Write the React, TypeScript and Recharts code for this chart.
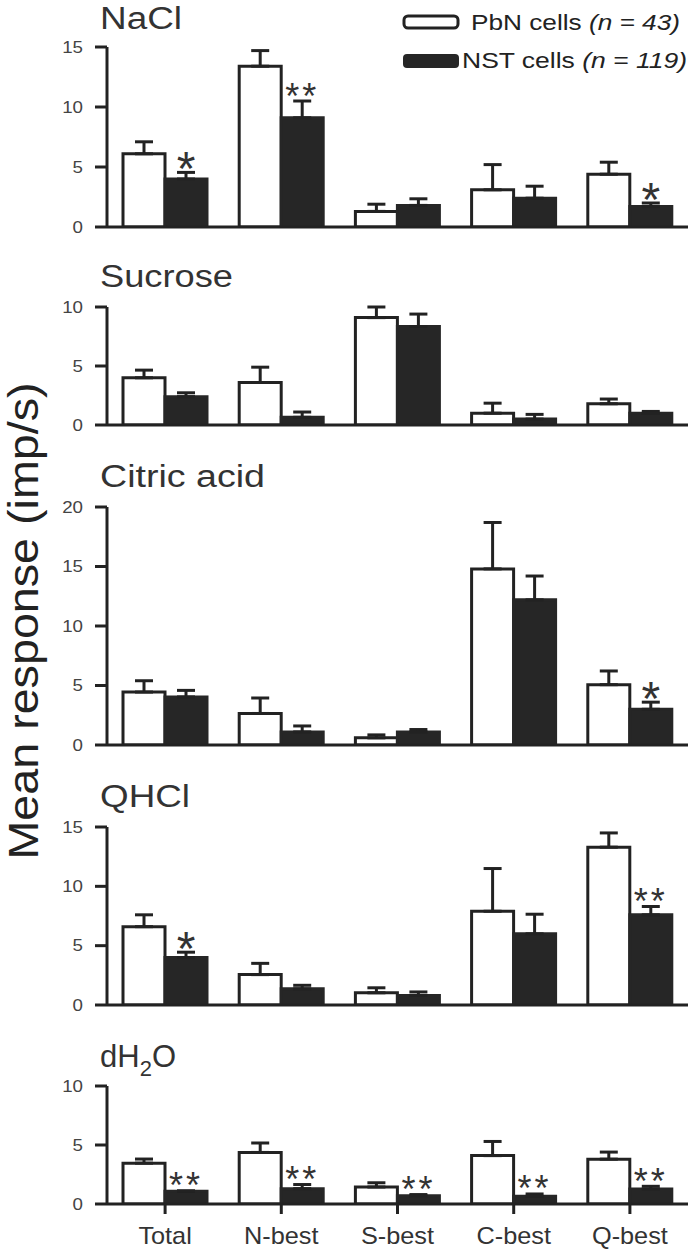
import React from "react";
import { Bar, BarChart, ErrorBar, LabelList, XAxis, YAxis } from "recharts";

const categories = ["Total", "N-best", "S-best", "C-best", "Q-best"];

const naclPbn = [6.1, 13.4, 1.3, 3.1, 4.4];
const naclPbnErr = [1.0, 1.3, 0.6, 2.1, 1.0];
const naclNst = [4.0, 9.1, 1.8, 2.4, 1.7];
const naclNstErr = [0.55, 1.4, 0.55, 1.0, 0.3];
const naclStars = ["*", "**", "", "", "*"];

const sucrosePbn = [4.0, 3.6, 9.1, 1.0, 1.8];
const sucrosePbnErr = [0.65, 1.3, 0.9, 0.85, 0.4];
const sucroseNst = [2.4, 0.65, 8.35, 0.5, 1.0];
const sucroseNstErr = [0.33, 0.45, 1.05, 0.4, 0.15];
const sucroseStars = ["", "", "", "", ""];

const citricPbn = [4.45, 2.65, 0.6, 14.8, 5.07];
const citricPbnErr = [0.95, 1.3, 0.25, 3.9, 1.15];
const citricNst = [4.04, 1.1, 1.1, 12.2, 3.0];
const citricNstErr = [0.55, 0.5, 0.2, 2.0, 0.6];
const citricStars = ["", "", "", "", "*"];

const qhclPbn = [6.6, 2.56, 1.03, 7.9, 13.3];
const qhclPbnErr = [1.0, 0.95, 0.42, 3.6, 1.2];
const qhclNst = [4.0, 1.36, 0.8, 6.0, 7.6];
const qhclNstErr = [0.45, 0.3, 0.3, 1.65, 0.7];
const qhclStars = ["*", "", "", "", "**"];

const waterPbn = [3.46, 4.37, 1.44, 4.1, 3.8];
const waterPbnErr = [0.35, 0.8, 0.36, 1.2, 0.6];
const waterNst = [1.07, 1.3, 0.7, 0.65, 1.27];
const waterNstErr = [0.05, 0.35, 0.1, 0.2, 0.23];
const waterStars = ["**", "**", "**", "**", "**"];

const FONT = "'Liberation Sans', Arial, sans-serif";
const INK = "#222";

type Panel = {
  key: string;
  plotTop: number;
  plotBottom: number;
  max: number;
  ticks: number[];
  pbn: number[];
  pbnErr: number[];
  nst: number[];
  nstErr: number[];
  stars: string[];
  showX: boolean;
};

const panels: Panel[] = [
  { key: "nacl", plotTop: 47, plotBottom: 227, max: 15, ticks: [0, 5, 10, 15], pbn: naclPbn, pbnErr: naclPbnErr, nst: naclNst, nstErr: naclNstErr, stars: naclStars, showX: false },
  { key: "sucrose", plotTop: 307, plotBottom: 425, max: 10, ticks: [0, 5, 10], pbn: sucrosePbn, pbnErr: sucrosePbnErr, nst: sucroseNst, nstErr: sucroseNstErr, stars: sucroseStars, showX: false },
  { key: "citric", plotTop: 507, plotBottom: 745, max: 20, ticks: [0, 5, 10, 15, 20], pbn: citricPbn, pbnErr: citricPbnErr, nst: citricNst, nstErr: citricNstErr, stars: citricStars, showX: false },
  { key: "qhcl", plotTop: 827, plotBottom: 1005, max: 15, ticks: [0, 5, 10, 15], pbn: qhclPbn, pbnErr: qhclPbnErr, nst: qhclNst, nstErr: qhclNstErr, stars: qhclStars, showX: false },
  { key: "water", plotTop: 1086, plotBottom: 1204, max: 10, ticks: [0, 5, 10], pbn: waterPbn, pbnErr: waterPbnErr, nst: waterNst, nstErr: waterNstErr, stars: waterStars, showX: true },
];

function YTick({ x, y, payload }: any) {
  return (
    <text
      transform={`translate(${x},${y}) scale(1.17,1)`}
      textAnchor="end"
      dominantBaseline="central"
      fontSize={16}
      fontFamily={FONT}
      fill="#444"
    >
      {payload.value}
    </text>
  );
}

function XTick({ x, y, payload }: any) {
  return (
    <text
      transform={`translate(${x},${y + 26}) scale(1.1,1)`}
      textAnchor="middle"
      fontSize={23}
      fontFamily={FONT}
      fill="#333"
    >
      {payload.value}
    </text>
  );
}

function MeanPanel({ p }: { p: Panel }) {
  const MT = 20;
  const MB = 14;
  const plotH = p.plotBottom - p.plotTop;
  const xH = p.showX ? 48 : 2;
  const height = MT + plotH + xH + MB;
  const rows = categories.map((c, i) => ({
    name: c,
    pbn: p.pbn[i],
    pbnErr: [0, p.pbnErr[i]],
    nst: p.nst[i],
    nstErr: [0, p.nstErr[i]],
    star: p.stars[i],
  }));
  const perUnit = plotH / p.max;

  const renderStar = (props: any) => {
    const { x, y, width, index } = props;
    const s = p.stars[index];
    if (!s) return null;
    const errTop = y - p.nstErr[index] * perUnit;
    const single = s === "*";
    return (
      <text
        x={x + width / 2}
        y={single ? errTop + 13 : errTop + 7.5}
        textAnchor="middle"
        fontSize={single ? 48 : 36}
        letterSpacing={single ? 0 : 3}
        fontFamily={FONT}
        fill="#333"
      >
        {s}
      </text>
    );
  };

  return (
    <div style={{ position: "absolute", left: 0, top: p.plotTop - MT }}>
      <BarChart
        width={690}
        height={height}
        data={rows}
        margin={{ top: MT, right: 2, bottom: MB, left: 0 }}
        barGap={0}
        barSize={42}
      >
        <XAxis
          dataKey="name"
          height={xH}
          interval={0}
          axisLine={{ stroke: INK, strokeWidth: 3 }}
          tickLine={p.showX ? { stroke: INK, strokeWidth: 3 } : false}
          tickSize={10}
          tickMargin={4}
          tick={p.showX ? <XTick /> : false}
        />
        <YAxis
          width={107}
          domain={[0, p.max]}
          ticks={p.ticks}
          interval={0}
          tickSize={12}
          tickMargin={12}
          axisLine={{ stroke: INK, strokeWidth: 3 }}
          tickLine={{ stroke: INK, strokeWidth: 3 }}
          tick={<YTick />}
          allowDataOverflow
        />
        <Bar dataKey="pbn" fill="#fff" stroke={INK} strokeWidth={3} isAnimationActive={false}>
          <ErrorBar dataKey="pbnErr" direction="y" width={9} stroke={INK} strokeWidth={3} isAnimationActive={false} />
        </Bar>
        <Bar dataKey="nst" fill="#262626" stroke="#262626" strokeWidth={3} isAnimationActive={false}>
          <ErrorBar dataKey="nstErr" direction="y" width={9} stroke={INK} strokeWidth={3} isAnimationActive={false} />
          <LabelList dataKey="star" content={renderStar} />
        </Bar>
      </BarChart>
    </div>
  );
}

export default function App() {
  const titleStyle = { fontSize: 31, fontFamily: FONT, fill: "#333" };
  return (
    <div style={{ position: "absolute", left: 0, top: 0, width: 690, height: 1252, background: "#fff", overflow: "hidden" }}>
      {panels.map((p) => (
        <MeanPanel key={p.key} p={p} />
      ))}
      <svg width={690} height={1252} style={{ position: "absolute", left: 0, top: 0, pointerEvents: "none" }}>
        <text x={100} y={29} textLength={82} lengthAdjust="spacingAndGlyphs" {...titleStyle}>NaCl</text>
        <text x={100} y={287} textLength={133} lengthAdjust="spacingAndGlyphs" {...titleStyle}>Sucrose</text>
        <text x={100} y={487} textLength={165} lengthAdjust="spacingAndGlyphs" {...titleStyle}>Citric acid</text>
        <text x={100} y={807} textLength={90} lengthAdjust="spacingAndGlyphs" {...titleStyle}>QHCl</text>
        <text x={100} y={1067} {...titleStyle}>
          <tspan>dH</tspan>
          <tspan fontSize={22} dy={9}>2</tspan>
          <tspan dy={-9}>O</tspan>
        </text>

        <text
          x={38}
          y={621}
          transform="rotate(-90 38 621)"
          textAnchor="middle"
          textLength={477}
          lengthAdjust="spacingAndGlyphs"
          fontSize={42}
          fontFamily={FONT}
          fill="#222"
        >
          Mean response (imp/s)
        </text>

        <rect x={404} y={16} width={54} height={12} rx={4} fill="#fff" stroke={INK} strokeWidth={3} />
        <rect x={403} y={54} width={56} height={14} rx={4} fill="#262626" />
        <text x={471} y={30} textLength={209} lengthAdjust="spacingAndGlyphs" fontSize={22} fontFamily={FONT} fill="#222">
          PbN cells <tspan fontStyle="italic">(n = 43)</tspan>
        </text>
        <text x={462} y={68} textLength={225} lengthAdjust="spacingAndGlyphs" fontSize={22} fontFamily={FONT} fill="#222">
          NST cells <tspan fontStyle="italic">(n = 119)</tspan>
        </text>
      </svg>
    </div>
  );
}
